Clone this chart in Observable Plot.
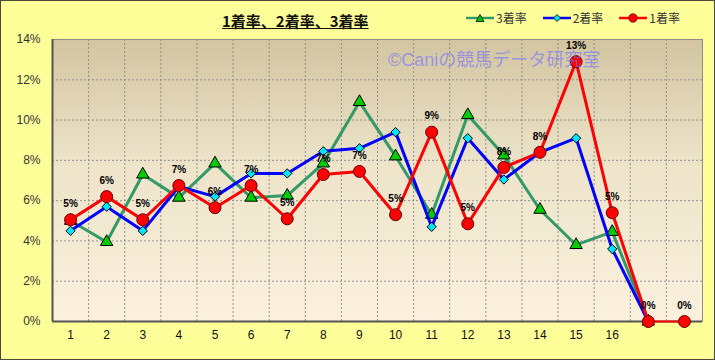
<!DOCTYPE html>
<html><head><meta charset="utf-8">
<script src="https://cdn.jsdelivr.net/npm/d3@7"></script>
<script src="https://cdn.jsdelivr.net/npm/@observablehq/plot@0.6"></script>
<style>
body{margin:0;background:#fff;}
#wrap{position:relative;width:715px;height:360px;background:#FFFF99;overflow:hidden;font-family:"Liberation Sans","Noto Sans CJK JP",sans-serif;}
#border{position:absolute;left:0;top:0;width:713px;height:358px;border:1px solid #4a4a3a;pointer-events:none;}
#chart{position:absolute;left:0;top:0;}
#title{position:absolute;left:222px;top:11px;font-size:15px;font-weight:bold;text-decoration:underline;color:#111;font-family:"Noto Sans CJK JP",sans-serif;line-height:20px;white-space:nowrap;}
#legend{position:absolute;left:466px;top:9px;display:flex;font-size:12px;color:#333;font-family:"Noto Sans CJK JP",sans-serif;line-height:18px;}
#legend .item{display:flex;align-items:center;margin-right:16px;}
#legend svg{margin-right:2px;}
#wm{position:absolute;left:388px;top:51px;font-size:18px;color:rgba(110,110,255,0.6);font-family:"Liberation Sans","Noto Sans CJK JP",sans-serif;white-space:nowrap;line-height:18px;}
</style></head>
<body>
<div id="wrap">
  <div id="chart"></div>
  <div id="title"></div>
  <div id="legend"></div>
  <div id="wm"></div>
  <div id="border"></div>
</div>
<script>
const titleText = "1着率、2着率、3着率";
const watermark = "©Caniの競馬データ研究室";
const categories = ["1","2","3","4","5","6","7","8","9","10","11","12","13","14","15","16","",""];
const seriesNames = ["3着率","2着率","1着率"];
const rate1 = [5.05,6.2,5.05,6.75,5.65,6.75,5.1,7.3,7.45,5.3,9.4,4.85,7.65,8.4,12.9,5.4,0,0];
const rate2 = [4.5,5.7,4.5,6.7,6.2,7.35,7.35,8.45,8.6,9.4,4.7,9.1,7.05,8.4,9.1,3.6,0];
const rate3 = [5.0,3.95,7.3,6.15,7.85,6.15,6.25,7.85,10.9,8.2,5.3,10.25,8.25,5.55,3.8,4.45,0];
const yTicks = [0,2,4,6,8,10,12,14];

const toRows = arr => arr.map((v, i) => ({i: i + 1, v}));
const d1 = toRows(rate1), d2 = toRows(rate2), d3r = toRows(rate3);
const xTicks = categories.map((c, i) => i + 1).filter(i => categories[i - 1] !== "");
const xGrid = categories.slice(1).map((c, i) => i + 1.5);

const green = "#339966", blue = "#0000FF", red = "#FF0000";

const svg = Plot.plot({
  width: 715, height: 360,
  marginLeft: 52, marginRight: 13, marginTop: 39, marginBottom: 39,
  style: {background: "transparent", fontFamily: "'Liberation Sans','Noto Sans CJK JP',sans-serif"},
  x: {type: "linear", domain: [0.5, categories.length + 0.5], label: null},
  y: {domain: [0, 14], label: null},
  marks: [
    Plot.frame({fill: "url(#bgGrad)", stroke: "#8c8c8c"}),
    Plot.gridY(yTicks.slice(1, -1), {stroke: "#888", strokeOpacity: 0.9, strokeDasharray: "2,2"}),
    Plot.gridX(xGrid, {stroke: "#888", strokeOpacity: 0.9, strokeDasharray: "2,2"}),
    Plot.ruleX([0.5], {stroke: "#555", strokeWidth: 2}),
    Plot.ruleY([0], {stroke: "#555", strokeWidth: 2}),
    Plot.axisY(yTicks, {tickSize: 0, tickPadding: 12, tickFormat: d => d + "%", fontSize: 12, fill: "#333", label: null}),
    Plot.axisX(xTicks, {tickSize: 0, tickPadding: 9, tickFormat: d => categories[d - 1], fontSize: 12, fill: "#111", label: null}),
    Plot.line(d3r, {x: "i", y: "v", stroke: green, strokeWidth: 3}),
    Plot.dot(d3r, {x: "i", y: "v", symbol: "triangle", r: 4.6, fill: "#00CC00", stroke: "#000", strokeWidth: 1}),
    Plot.line(d2, {x: "i", y: "v", stroke: blue, strokeWidth: 3}),
    Plot.dot(d2, {x: "i", y: "v", symbol: "diamond2", r: 4.2, fill: "#00E5FF", stroke: "#000", strokeWidth: 1}),
    Plot.line(d1.filter(d => d.i <= 17), {x: "i", y: "v", stroke: red, strokeWidth: 3}),
    Plot.line(d1.filter(d => d.i >= 17), {x: "i", y: "v", stroke: red, strokeWidth: 2}),
    Plot.dot(d1, {x: "i", y: "v", r: 6, fill: "#FF0000", stroke: "#600", strokeWidth: 1}),
    Plot.text(d1, {x: "i", y: "v", text: d => Math.round(d.v) + "%", dy: -16, fontSize: 10, fontWeight: "bold", fill: "#000"})
  ]
});
const ns = "http://www.w3.org/2000/svg";
const defs = document.createElementNS(ns, "defs");
defs.innerHTML = '<linearGradient id="bgGrad" x1="0" y1="0" x2="0" y2="1"><stop offset="0" stop-color="#D3C5A1"/><stop offset="0.45" stop-color="#EDE4CA"/><stop offset="1" stop-color="#FBF1DE"/></linearGradient>';
svg.prepend(defs);
document.getElementById("chart").appendChild(svg);

document.getElementById("title").textContent = titleText;
document.getElementById("wm").textContent = watermark;

const legendSpecs = [
  {name: seriesNames[0], color: green, sym: "tri"},
  {name: seriesNames[1], color: blue, sym: "dia"},
  {name: seriesNames[2], color: red, sym: "dot"}
];
const legend = document.getElementById("legend");
for (const s of legendSpecs) {
  const item = document.createElement("div");
  item.className = "item";
  let m;
  if (s.sym === "tri") m = '<path d="M14,4.5 L18,11.5 L10,11.5 Z" fill="#00CC00" stroke="#000" stroke-width="0.8"/>';
  else if (s.sym === "dia") m = '<path d="M14,4.5 L17.5,8 L14,11.5 L10.5,8 Z" fill="#00E5FF" stroke="#000" stroke-width="0.8"/>';
  else m = '<circle cx="14" cy="8" r="4.2" fill="#FF0000" stroke="#600" stroke-width="0.8"/>';
  item.innerHTML = '<svg width="28" height="16"><line x1="0" y1="8" x2="28" y2="8" stroke="' + s.color + '" stroke-width="2.5"/>' + m + '</svg><span>' + s.name + '</span>';
  legend.appendChild(item);
}
</script>
</body></html>
